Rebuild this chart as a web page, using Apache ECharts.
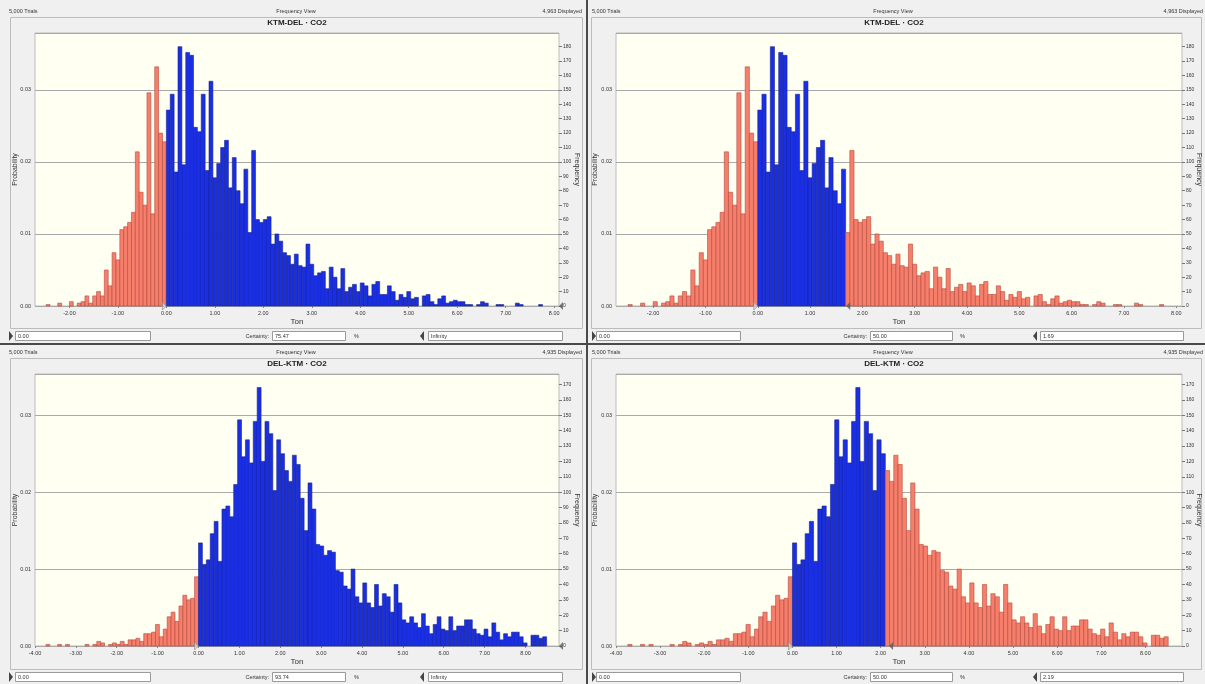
<!DOCTYPE html>
<html>
<head>
<meta charset="utf-8">
<script src="https://cdn.jsdelivr.net/npm/echarts@6/dist/echarts.min.js"></script>
<style>
body { margin: 0; background: #f0f0f0; width: 1205px; height: 684px; overflow: hidden; position: relative; }
.panel { position: absolute; }
.sep { position: absolute; background: #4a4a4a; }
</style>
</head>
<body>
<div id="p1" class="panel" style="left:0;top:0;width:586px;height:343px"></div>
<div id="p2" class="panel" style="left:588px;top:0;width:617px;height:343px"></div>
<div id="p3" class="panel" style="left:0;top:341px;width:586px;height:343px"></div>
<div id="p4" class="panel" style="left:588px;top:341px;width:617px;height:343px"></div>
<div class="sep" style="left:586px;top:0;width:2px;height:684px"></div>
<div class="sep" style="left:0;top:343px;width:1205px;height:2px"></div>
<script>
var trials = 5000;

// KTM-DEL histogram (counts per bin, first bin index -31, bin 0 starts at 0.00)
var ktmFirstBin = -31;
var ktmBinWidth = 0.08;
var ktmCounts = [1,0,0,2,0,0,3,0,2,3,7,2,7,10,7,25,14,37,32,53,55,58,65,107,79,70,148,64,166,120,114,
    136,147,93,180,98,176,174,124,121,147,94,156,89,99,110,115,82,103,80,71,95,51,108,60,58,60,62,43,50,
    45,37,35,29,36,28,27,43,29,21,23,24,12,27,20,12,26,10,13,15,10,16,14,7,15,17,8,8,14,10,
    4,8,6,10,5,6,0,7,8,3,1,5,7,2,3,4,3,3,1,1,0,1,3,2,0,0,1,1,0,0,0,2,1,0,0,0,0,1];
var ktmTicks = [-2, -1, 0, 1, 2, 3, 4, 5, 6, 7, 8];
var ktmFreqTicks = [0,10,20,30,40,50,60,70,80,90,100,110,120,130,140,150,160,170,180];

// DEL-KTM histogram
var delFirstBin = -39;
var delBinWidth = 0.0957;
var delCounts = [1,0,0,1,0,1,0,0,0,0,1,0,1,3,2,0,1,2,1,3,1,4,4,5,3,8,8,9,14,6,11,19,22,16,26,33,30,31,45,
    67,53,56,73,81,55,89,91,84,105,147,123,134,119,146,168,120,146,138,101,134,125,114,107,124,118,
    96,75,106,89,66,65,59,62,61,49,48,39,37,50,32,28,41,28,25,40,26,34,32,22,40,28,17,15,19,15,
    12,21,13,8,14,19,11,10,19,10,13,13,17,17,11,8,7,11,6,15,9,4,8,6,9,9,6,2,0,7,7,5,6];
var delTicks = [-4, -3, -2, -1, 0, 1, 2, 3, 4, 5, 6, 7, 8];
var delFreqTicks = [0,10,20,30,40,50,60,70,80,90,100,110,120,130,140,150,160,170];

var FONT = 'Liberation Sans';
var TXT = '#333';

var leftLay = {
    w: 586, grid: {left: 35, top: 33, width: 524},
    stripL: 9, stripC: 296, stripR: 582, frame: [10, 17, 572, 311], probGap: 16, freqGap: 14,
    tri1: 9, box1: [15, 150], certEnd: 269, box2: [272, 345], pct: 354, tri2: 424, box3: [428, 562]
};
var rightLay = {
    w: 617, grid: {left: 28, top: 33, width: 566},
    stripL: 4, stripC: 305, stripR: 615, frame: [3, 17, 610, 311], probGap: 17, freqGap: 13,
    tri1: 4, box1: [8, 152], certEnd: 279, box2: [282, 364], pct: 372, tri2: 449, box3: [452, 595]
};

function makeBins(first, width, counts, lo, hi) {
    var out = [];
    for (var i = 0; i < counts.length; i++) {
        var s = (first + i) * width, e = (first + i + 1) * width;
        var inside = (s >= lo - 1e-9 && e <= hi + 1e-9) ? 1 : 0;
        out.push([s, e, counts[i], inside]);
    }
    return out;
}

function txt(x, y, s, size, align, extra) {
    var st = {text: s, x: 0, y: 0, fontSize: size, fontFamily: FONT, fill: TXT, align: align || 'left', verticalAlign: 'middle'};
    if (extra) for (var k in extra) st[k] = extra[k];
    return {type: 'text', x: x, y: y, style: st, silent: true};
}

function box(x0, x1, y, label) {
    return [
        {type: 'rect', shape: {x: x0 + 0.5, y: y + 0.5, width: x1 - x0, height: 9}, style: {fill: '#fff', stroke: '#9a9a9a', lineWidth: 1}, silent: true},
        txt(x0 + 3, y + 5, label, 5.5, 'left')
    ];
}

function chrome(L, p) {
    var g = [];
    g.push({type: 'rect', shape: {x: L.frame[0] + 0.5, y: L.frame[1] + 0.5, width: L.frame[2], height: L.frame[3]}, style: {fill: 'none', stroke: '#bcbcbc', lineWidth: 1}, silent: true});
    g.push(txt(L.stripL, 11, '5,000 Trials', 5.5, 'left'));
    g.push(txt(L.stripC, 11, 'Frequency View', 5.5, 'center'));
    g.push(txt(L.stripR, 11, p.displayed + ' Displayed', 5.5, 'right'));
    g.push(txt(L.stripC + 1, 23, p.title, 8, 'center', {fontWeight: 'bold', fill: '#222'}));
    var by = 331;
    g.push({type: 'polygon', shape: {points: [[L.tri1, by], [L.tri1 + 4, by + 5], [L.tri1, by + 10]]}, style: {fill: '#444'}, silent: true});
    g = g.concat(box(L.box1[0], L.box1[1], by, p.loTxt));
    g.push(txt(L.certEnd, by + 5, 'Certainty:', 5.5, 'right'));
    g = g.concat(box(L.box2[0], L.box2[1], by, p.cert));
    g.push(txt(L.pct, by + 5, '%', 5.5, 'left'));
    g.push({type: 'polygon', shape: {points: [[L.tri2, by], [L.tri2 - 4, by + 5], [L.tri2, by + 10]]}, style: {fill: '#444'}, silent: true});
    g = g.concat(box(L.box3[0], L.box3[1], by, p.hiTxt));
    return g;
}

function buildPanel(p) {
    var L = p.lay;
    var bins = makeBins(p.first, p.width, p.counts, p.lo, p.hi);
    var hiMark = isFinite(p.hi) ? p.hi : p.xmax;
    var chart = echarts.init(document.getElementById(p.el));
    chart.setOption({
        animation: false,
        graphic: chrome(L, p),
        grid: {left: L.grid.left, top: L.grid.top, width: L.grid.width, height: p.plotH,
            outerBoundsMode: 'none', containLabel: false,
            show: true, backgroundColor: '#fffff2', borderColor: '#bdbdbd', borderWidth: 1},
        xAxis: {
            type: 'value', min: p.xmin, max: p.xmax,
            name: 'Ton', nameLocation: 'middle', nameGap: 12, nameMoveOverlap: false,
            nameTextStyle: {fontSize: 8, fontFamily: FONT, color: TXT},
            axisLine: {show: false},
            axisTick: {show: true, length: 2, customValues: p.ticks, lineStyle: {color: '#888'}},
            axisLabel: {customValues: p.ticks, fontSize: 5.5, fontFamily: FONT, color: TXT, margin: 4,
                formatter: function (v) { return v.toFixed(2); }},
            splitLine: {show: false}
        },
        yAxis: [{
            type: 'value', min: 0, max: p.freqMax / trials, interval: 0.01,
            name: 'Probability', nameLocation: 'middle', nameGap: L.probGap, nameRotate: 90, nameMoveOverlap: false,
            nameTextStyle: {fontSize: 7, fontFamily: FONT, color: TXT},
            axisLine: {show: false}, axisTick: {show: false},
            axisLabel: {fontSize: 5.5, fontFamily: FONT, color: TXT, margin: 4, showMaxLabel: false,
                formatter: function (v) { return v.toFixed(2); }},
            splitLine: {show: true, lineStyle: {color: '#a9a9a9', width: 1}}
        }, {
            type: 'value', min: 0, max: p.freqMax, position: 'right',
            name: 'Frequency', nameLocation: 'middle', nameGap: L.freqGap, nameRotate: -90, nameMoveOverlap: false,
            nameTextStyle: {fontSize: 7, fontFamily: FONT, color: TXT},
            axisLine: {show: false},
            axisTick: {show: true, length: 3, customValues: p.freqTicks, lineStyle: {color: '#777'}},
            axisLabel: {customValues: p.freqTicks, fontSize: 5, fontFamily: FONT, color: TXT, margin: 4},
            splitLine: {show: false}
        }],
        series: [{
            type: 'custom', yAxisIndex: 1,
            encode: {x: [0, 1], y: 2},
            data: bins,
            renderItem: function (params, api) {
                var c = api.value(2);
                if (!c) return;
                var a = api.coord([api.value(0), c]);
                var b = api.coord([api.value(1), 0]);
                var blue = api.value(3) === 1;
                return {
                    type: 'rect',
                    shape: {x: a[0], y: a[1], width: b[0] - a[0], height: b[1] - a[1]},
                    style: {fill: blue ? '#1a2ee3' : '#f67f6c', stroke: blue ? '#1a2690' : '#b5483c', lineWidth: 0.6}
                };
            }
        }, {
            type: 'scatter', yAxisIndex: 1, clip: false, silent: true, z: 5,
            symbol: 'path://M0,0 L5,5 L0,10 Z', symbolSize: [4, 8], symbolOffset: [-2, 0],
            itemStyle: {color: '#d6d6d6', borderColor: '#7a7a7a', borderWidth: 0.6},
            data: [[p.lo, 0]]
        }, {
            type: 'scatter', yAxisIndex: 1, clip: false, silent: true, z: 5,
            symbol: 'path://M5,0 L0,5 L5,10 Z', symbolSize: [4, 8], symbolOffset: [2, 0],
            itemStyle: {color: '#5a5a5a'},
            data: [[hiMark, 0]]
        }]
    });
}

var panels = [
    {el: 'p1', lay: leftLay, title: 'KTM-DEL \u00b7 CO2', displayed: '4,963', first: ktmFirstBin, width: ktmBinWidth, counts: ktmCounts,
        ticks: ktmTicks, freqTicks: ktmFreqTicks, xmin: -2.71, xmax: 8.10, freqMax: 189.5, plotH: 273,
        lo: 0, hi: Infinity, loTxt: '0.00', cert: '75.47', hiTxt: 'Infinity'},
    {el: 'p2', lay: rightLay, title: 'KTM-DEL \u00b7 CO2', displayed: '4,963', first: ktmFirstBin, width: ktmBinWidth, counts: ktmCounts,
        ticks: ktmTicks, freqTicks: ktmFreqTicks, xmin: -2.71, xmax: 8.11, freqMax: 189.5, plotH: 273,
        lo: 0, hi: 1.69, loTxt: '0.00', cert: '50.00', hiTxt: '1.69'},
    {el: 'p3', lay: leftLay, title: 'DEL-KTM \u00b7 CO2', displayed: '4,935', first: delFirstBin, width: delBinWidth, counts: delCounts,
        ticks: delTicks, freqTicks: delFreqTicks, xmin: -4.0, xmax: 8.82, freqMax: 176.8, plotH: 272,
        lo: 0, hi: Infinity, loTxt: '0.00', cert: '93.74', hiTxt: 'Infinity'},
    {el: 'p4', lay: rightLay, title: 'DEL-KTM \u00b7 CO2', displayed: '4,935', first: delFirstBin, width: delBinWidth, counts: delCounts,
        ticks: delTicks, freqTicks: delFreqTicks, xmin: -4.0, xmax: 8.83, freqMax: 176.8, plotH: 272,
        lo: 0, hi: 2.19, loTxt: '0.00', cert: '50.00', hiTxt: '2.19'}
];

for (var i = 0; i < panels.length; i++) {
    buildPanel(panels[i]);
}
</script>
</body>
</html>
